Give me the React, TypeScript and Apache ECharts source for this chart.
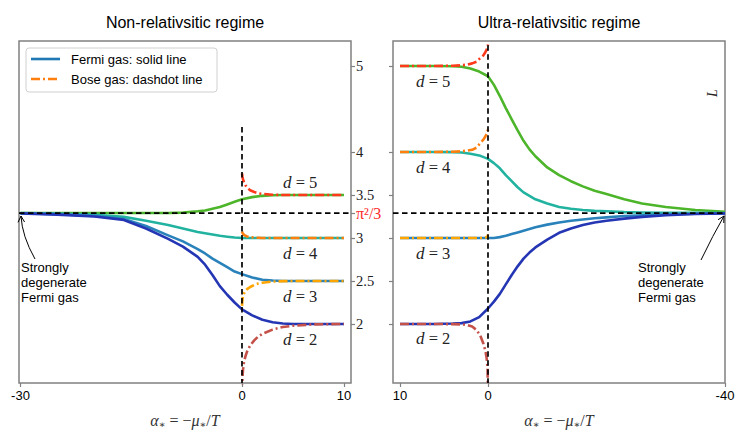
import React, { useEffect, useRef } from "react";
import * as echarts from "echarts";

// ---------------- data ----------------
const PI2_3 = (Math.PI * Math.PI) / 3;

// Non-relativistic regime: Fermi gas
const NR_FERMI_ALPHA = [-30, -25, -20, -16, -13, -10, -8, -6, -5, -4, -3, -2, -1, 0, 1, 2, 3, 4, 5, 7, 10];
const NR_FERMI_D5 = [3.29, 3.29, 3.29, 3.29, 3.29, 3.291, 3.295, 3.31, 3.32, 3.34, 3.36, 3.39, 3.42, 3.45, 3.475, 3.49, 3.497, 3.5, 3.5, 3.5, 3.5];
const NR_FERMI_D4 = [3.289, 3.285, 3.27, 3.245, 3.2, 3.15, 3.11, 3.07, 3.055, 3.04, 3.025, 3.015, 3.005, 3.0, 3.0, 3.0, 3.0, 3.0, 3.0, 3.0, 3.0];
const NR_FERMI_D3 = [3.287, 3.277, 3.257, 3.22, 3.14, 3.03, 2.96, 2.87, 2.82, 2.76, 2.71, 2.66, 2.61, 2.58, 2.54, 2.515, 2.505, 2.5, 2.5, 2.5, 2.5];
const NR_FERMI_D2 = [3.286, 3.272, 3.25, 3.21, 3.11, 2.99, 2.9, 2.78, 2.69, 2.57, 2.44, 2.34, 2.25, 2.17, 2.1, 2.05, 2.02, 2.005, 2.0, 2.0, 2.0];

// Non-relativistic regime: Bose gas
const NR_BOSE_ALPHA = [0, 0.05, 0.1, 0.2, 0.35, 0.5, 0.8, 1.2, 1.6, 2, 3, 4, 5, 7, 10];
const NR_BOSE_D5 = [3.75, 3.71, 3.68, 3.65, 3.61, 3.585, 3.555, 3.535, 3.52, 3.512, 3.503, 3.5, 3.5, 3.5, 3.5];
const NR_BOSE_D4 = [3.075, 3.06, 3.05, 3.035, 3.025, 3.018, 3.01, 3.005, 3.002, 3.0, 3.0, 3.0, 3.0, 3.0, 3.0];
const NR_BOSE_D3 = [2.21, 2.29, 2.32, 2.355, 2.385, 2.405, 2.43, 2.455, 2.47, 2.48, 2.493, 2.498, 2.5, 2.5, 2.5];
const NR_BOSE_D2 = [1.0, 1.38, 1.47, 1.56, 1.63, 1.68, 1.75, 1.81, 1.855, 1.885, 1.935, 1.965, 1.98, 1.995, 2.0];

// Ultra-relativistic regime: Fermi gas
const UR_FERMI_ALPHA = [10, 6, 4, 3, 2, 1, 0, -1, -2, -3, -4, -5, -6, -7, -8, -10, -12, -14, -16, -18, -20, -23, -26, -30, -35, -40];
const UR_FERMI_D5 = [5.0, 5.0, 4.997, 4.99, 4.97, 4.935, 4.88, 4.78, 4.65, 4.51, 4.38, 4.25, 4.13, 4.03, 3.95, 3.82, 3.73, 3.66, 3.6, 3.55, 3.51, 3.45, 3.4, 3.36, 3.325, 3.305];
const UR_FERMI_D4 = [4.0, 4.0, 3.998, 3.993, 3.98, 3.96, 3.92, 3.87, 3.81, 3.73, 3.66, 3.59, 3.53, 3.49, 3.45, 3.4, 3.36, 3.34, 3.325, 3.315, 3.31, 3.3, 3.297, 3.294, 3.292, 3.291];
const UR_FERMI_D3 = [3.0, 3.0, 3.0, 3.0, 3.0, 3.0, 3.0, 3.0, 3.01, 3.025, 3.045, 3.065, 3.085, 3.105, 3.125, 3.155, 3.18, 3.2, 3.215, 3.23, 3.24, 3.255, 3.265, 3.275, 3.282, 3.286];
const UR_FERMI_D2 = [2.0, 2.0, 2.005, 2.01, 2.03, 2.08, 2.18, 2.26, 2.35, 2.46, 2.57, 2.67, 2.76, 2.83, 2.89, 2.98, 3.06, 3.11, 3.15, 3.18, 3.2, 3.225, 3.245, 3.265, 3.278, 3.285];

// Ultra-relativistic regime: Bose gas
const UR_BOSE_ALPHA = [10, 6, 4, 3, 2.4, 1.8, 1.3, 0.9, 0.55, 0.3, 0.15, 0.05, 0];
const UR_BOSE_D5 = [5.0, 5.0, 5.003, 5.008, 5.015, 5.03, 5.05, 5.09, 5.12, 5.16, 5.19, 5.22, 5.25];
const UR_BOSE_D4 = [4.0, 4.0, 4.003, 4.008, 4.015, 4.025, 4.05, 4.1, 4.14, 4.18, 4.21, 4.24, 4.26];
const UR_BOSE_D3 = [3.0, 3.0, 3.0, 3.0, 3.0, 3.0, 3.0, 3.0, 3.001, 3.005, 3.01, 3.02, 3.04];
const UR_BOSE_D2 = [2.0, 2.0, 1.998, 1.995, 1.99, 1.97, 1.93, 1.87, 1.78, 1.69, 1.6, 1.48, 1.1];

const NR_X_TICKS = [-30, 0, 10];
const UR_X_TICKS = [10, 0, -40];
const NR_Y_TICKS = [2, 2.5, 3, PI2_3, 3.5, 4, 5];
const UR_Y_TICKS = [2, 2.5, 3, 3.5, 4, 5];
const D_LABELS = ["d = 5", "d = 4", "d = 3", "d = 2"];

const FERMI_COLORS = ["#4db52a", "#22b3a0", "#2a82bb", "#2436b4"];
const BOSE_COLORS = ["#ff3a1c", "#ff7f0e", "#ffa500", "#c4524a"];

// ---------------- scales (piecewise-linear alpha axes) ----------------
const tL = (a: number) => (a < 0 ? a * 7.383 : a * 10.2);
const tR = (a: number) => (a > 0 ? -a * 8.8 : -a * 5.925);

const SANS = "'Liberation Sans', Arial, Helvetica, sans-serif";
const SERIF = "'Liberation Serif', 'DejaVu Serif', 'Times New Roman', serif";
const DASHDOT = [9, 3, 2, 3];
const DASHED = [5.5, 3.5];
const Y_MIN = 1.314;
const Y_MAX = 5.29;
const TICK = { show: true, length: 4, inside: false, lineStyle: { color: "#808080", width: 1.2 } };

function lineSeries(gi: number, t: (a: number) => number, xs: number[], ys: number[], color: string, bose: boolean) {
  return {
    type: "line",
    xAxisIndex: gi,
    yAxisIndex: gi,
    data: xs.map((a, i) => [t(a), ys[i]]),
    showSymbol: false,
    symbol: "none",
    smooth: false,
    clip: true,
    silent: true,
    z: bose ? 4 : 3,
    lineStyle: { color, width: 2.6, type: bose ? DASHDOT : "solid", cap: "butt", join: "round" },
    itemStyle: { color },
  };
}

function dashedSeries(gi: number, data: number[][]) {
  return {
    type: "line",
    xAxisIndex: gi,
    yAxisIndex: gi,
    data,
    showSymbol: false,
    symbol: "none",
    silent: true,
    z: 6,
    lineStyle: { color: "#000", width: 1.7, type: DASHED },
  };
}

function arrowHead(tip: number[], ctrl: number[], len: number) {
  const dx = ctrl[0] - tip[0];
  const dy = ctrl[1] - tip[1];
  const n = Math.hypot(dx, dy);
  const ux = dx / n;
  const uy = dy / n;
  const ang = (28 * Math.PI) / 180;
  const rot = (s: number) => [
    tip[0] + len * (ux * Math.cos(s * ang) - uy * Math.sin(s * ang)),
    tip[1] + len * (ux * Math.sin(s * ang) + uy * Math.cos(s * ang)),
  ];
  return [rot(1), tip, rot(-1)];
}

function dLabel(x: number, y: number, text: string) {
  const [d, rest] = [text.slice(0, 1), text.slice(1)];
  return {
    type: "text",
    x,
    y,
    silent: true,
    style: {
      text: `{i|${d}}{n|${rest}}`,
      align: "left",
      verticalAlign: "middle",
      rich: {
        i: { fontFamily: SERIF, fontStyle: "italic", fontSize: 17, fill: "#222", color: "#222" },
        n: { fontFamily: SERIF, fontSize: 16.5, fill: "#222", color: "#222" },
      },
    },
  };
}

export default function App() {
  const ref = useRef<HTMLDivElement>(null);

  useEffect(() => {
    document.body.style.margin = "0";
    if (!ref.current) return;
    const chart = echarts.init(ref.current, undefined, { renderer: "svg" });

    const xName = "{i|α}{s|∗}{n| = −}{i|μ}{s|∗}{n|/}{i|T}";
    const xNameStyle = {
      fontFamily: SERIF,
      fontSize: 15,
      color: "#333",
      rich: {
        i: { fontFamily: SERIF, fontStyle: "italic", fontSize: 16, color: "#333" },
        n: { fontFamily: SERIF, fontSize: 16, color: "#333" },
        s: { fontFamily: SERIF, fontSize: 10, color: "#333", verticalAlign: "bottom", padding: [7, 0, 0, 0] },
      },
    };

    const xAxisCommon = {
      type: "value",
      splitLine: { show: false },
      axisLine: { show: false, onZero: false },
      nameLocation: "middle",
      nameGap: 29,
      name: xName,
      nameTextStyle: xNameStyle,
    };

    const leftArrowTail = [35, 259];
    const leftArrowCtrl = [22, 236];
    const leftArrowTip = [21, 216];
    const rightArrowTail = [701, 260];
    const rightArrowCtrl = [713, 235];
    const rightArrowTip = [724, 216];

    const option: any = {
      animation: false,
      backgroundColor: "#fff",
      grid: [
        { left: 19, top: 41, width: 332, height: 342, show: true, borderColor: "#808080", borderWidth: 1.5, backgroundColor: "transparent" },
        { left: 393, top: 41, width: 332, height: 342, show: true, borderColor: "#808080", borderWidth: 1.5, backgroundColor: "transparent" },
      ],
      xAxis: [
        {
          ...xAxisCommon,
          gridIndex: 0,
          position: "bottom",
          min: tL(-30) - 1.5,
          max: 109,
          axisTick: { ...TICK, customValues: NR_X_TICKS.map(tL) },
          axisLabel: {
            show: true,
            customValues: NR_X_TICKS.map(tL),
            margin: 6,
            fontFamily: SANS,
            fontSize: 13,
            color: "#000",
            formatter: (v: number) => {
              const a = NR_X_TICKS.find((t) => Math.abs(tL(t) - v) < 1e-6);
              return a === undefined ? "" : String(a);
            },
          },
        },
        {
          ...xAxisCommon,
          gridIndex: 1,
          position: "bottom",
          min: -95,
          max: tR(-40),
          axisTick: { ...TICK, customValues: UR_X_TICKS.map(tR) },
          axisLabel: {
            show: true,
            customValues: UR_X_TICKS.map(tR),
            margin: 6,
            fontFamily: SANS,
            fontSize: 13,
            color: "#000",
            formatter: (v: number) => {
              const a = UR_X_TICKS.find((t) => Math.abs(tR(t) - v) < 1e-6);
              return a === undefined ? "" : String(a);
            },
          },
        },
      ],
      yAxis: [
        {
          type: "value",
          gridIndex: 0,
          position: "right",
          min: Y_MIN,
          max: Y_MAX,
          splitLine: { show: false },
          axisLine: { show: false, onZero: false },
          axisTick: { ...TICK, customValues: NR_Y_TICKS },
          axisLabel: {
            show: true,
            customValues: NR_Y_TICKS,
            margin: 5,
            fontFamily: SERIF,
            fontSize: 14.5,
            color: "#222",
            formatter: (v: number) => (Math.abs(v - PI2_3) < 1e-6 ? "{r|π²/3}" : String(v)),
            rich: { r: { color: "#ff2a2a", fontFamily: SERIF, fontSize: 16 } },
          },
        },
        {
          type: "value",
          gridIndex: 1,
          position: "left",
          min: Y_MIN,
          max: Y_MAX,
          splitLine: { show: false },
          axisLine: { show: false, onZero: false },
          axisTick: { ...TICK, customValues: UR_Y_TICKS },
          axisLabel: { show: false },
        },
      ],
      series: [
        lineSeries(0, tL, NR_FERMI_ALPHA, NR_FERMI_D5, FERMI_COLORS[0], false),
        lineSeries(0, tL, NR_FERMI_ALPHA, NR_FERMI_D4, FERMI_COLORS[1], false),
        lineSeries(0, tL, NR_FERMI_ALPHA, NR_FERMI_D3, FERMI_COLORS[2], false),
        lineSeries(0, tL, NR_FERMI_ALPHA, NR_FERMI_D2, FERMI_COLORS[3], false),
        lineSeries(0, tL, NR_BOSE_ALPHA, NR_BOSE_D5, BOSE_COLORS[0], true),
        lineSeries(0, tL, NR_BOSE_ALPHA, NR_BOSE_D4, BOSE_COLORS[1], true),
        lineSeries(0, tL, NR_BOSE_ALPHA, NR_BOSE_D3, BOSE_COLORS[2], true),
        lineSeries(0, tL, NR_BOSE_ALPHA, NR_BOSE_D2, BOSE_COLORS[3], true),
        lineSeries(1, tR, UR_FERMI_ALPHA, UR_FERMI_D5, FERMI_COLORS[0], false),
        lineSeries(1, tR, UR_FERMI_ALPHA, UR_FERMI_D4, FERMI_COLORS[1], false),
        lineSeries(1, tR, UR_FERMI_ALPHA, UR_FERMI_D3, FERMI_COLORS[2], false),
        lineSeries(1, tR, UR_FERMI_ALPHA, UR_FERMI_D2, FERMI_COLORS[3], false),
        lineSeries(1, tR, UR_BOSE_ALPHA, UR_BOSE_D5, BOSE_COLORS[0], true),
        lineSeries(1, tR, UR_BOSE_ALPHA, UR_BOSE_D4, BOSE_COLORS[1], true),
        lineSeries(1, tR, UR_BOSE_ALPHA, UR_BOSE_D3, BOSE_COLORS[2], true),
        lineSeries(1, tR, UR_BOSE_ALPHA, UR_BOSE_D2, BOSE_COLORS[3], true),
        dashedSeries(0, [[tL(-30) - 1.5, PI2_3], [109, PI2_3]]),
        dashedSeries(0, [[tL(0), 4.29], [tL(0), Y_MIN]]),
        dashedSeries(1, [[-95, PI2_3], [tR(-40), PI2_3]]),
        dashedSeries(1, [[tR(0), 5.24], [tR(0), Y_MIN]]),
      ],
      graphic: [
        { type: "text", x: 185, y: 22, silent: true, style: { text: "Non-relativsitic regime", fontFamily: SANS, fontSize: 16, fill: "#000", align: "center", verticalAlign: "middle" } },
        { type: "text", x: 559, y: 22, silent: true, style: { text: "Ultra-relativsitic regime", fontFamily: SANS, fontSize: 16, fill: "#000", align: "center", verticalAlign: "middle" } },
        // legend
        { type: "rect", silent: true, z: 10, shape: { x: 26, y: 48, width: 191, height: 44, r: 3 }, style: { fill: "rgba(255,255,255,0.85)", stroke: "#d0d0d0", lineWidth: 1 } },
        { type: "line", silent: true, z: 11, shape: { x1: 31, y1: 59, x2: 60, y2: 59 }, style: { stroke: "#1f77b4", lineWidth: 2.6 } },
        { type: "line", silent: true, z: 11, shape: { x1: 31, y1: 79, x2: 60, y2: 79 }, style: { stroke: "#ff7f0e", lineWidth: 2.6, lineDash: DASHDOT } },
        { type: "text", silent: true, z: 11, x: 71, y: 59, style: { text: "Fermi gas: solid line", fontFamily: SANS, fontSize: 13, fill: "#000", align: "left", verticalAlign: "middle" } },
        { type: "text", silent: true, z: 11, x: 71, y: 79, style: { text: "Bose gas: dashdot line", fontFamily: SANS, fontSize: 13, fill: "#000", align: "left", verticalAlign: "middle" } },
        // d labels
        dLabel(283, 182, D_LABELS[0]),
        dLabel(283, 253, D_LABELS[1]),
        dLabel(283, 296, D_LABELS[2]),
        dLabel(283, 339, D_LABELS[3]),
        dLabel(416, 81, D_LABELS[0]),
        dLabel(416, 167, D_LABELS[1]),
        dLabel(416, 253, D_LABELS[2]),
        dLabel(416, 338, D_LABELS[3]),
        // L label
        { type: "text", silent: true, x: 712, y: 93, rotation: Math.PI / 2, style: { text: "L", fontFamily: SERIF, fontStyle: "italic", fontSize: 14, fill: "#222", align: "center", verticalAlign: "middle" } },
        // annotations
        { type: "text", silent: true, x: 21, y: 260, style: { text: "Strongly\ndegenerate\nFermi gas", fontFamily: SANS, fontSize: 13, lineHeight: 15, fill: "#000", align: "left", verticalAlign: "top" } },
        { type: "text", silent: true, x: 638, y: 260, style: { text: "Strongly\ndegenerate\nFermi gas", fontFamily: SANS, fontSize: 13, lineHeight: 15, fill: "#000", align: "left", verticalAlign: "top" } },
        { type: "bezierCurve", silent: true, z: 12, shape: { x1: leftArrowTail[0], y1: leftArrowTail[1], cpx1: leftArrowCtrl[0], cpy1: leftArrowCtrl[1], x2: leftArrowTip[0], y2: leftArrowTip[1] }, style: { stroke: "#000", lineWidth: 1, fill: null } },
        { type: "polyline", silent: true, z: 12, shape: { points: arrowHead(leftArrowTip, leftArrowCtrl, 7) }, style: { stroke: "#000", lineWidth: 1, fill: null } },
        { type: "bezierCurve", silent: true, z: 12, shape: { x1: rightArrowTail[0], y1: rightArrowTail[1], cpx1: rightArrowCtrl[0], cpy1: rightArrowCtrl[1], x2: rightArrowTip[0], y2: rightArrowTip[1] }, style: { stroke: "#000", lineWidth: 1, fill: null } },
        { type: "polyline", silent: true, z: 12, shape: { points: arrowHead(rightArrowTip, rightArrowCtrl, 7) }, style: { stroke: "#000", lineWidth: 1, fill: null } },
      ],
    };

    chart.setOption(option);
    return () => {
      chart.dispose();
    };
  }, []);

  return <div ref={ref} style={{ width: 752, height: 439 }} />;
}
